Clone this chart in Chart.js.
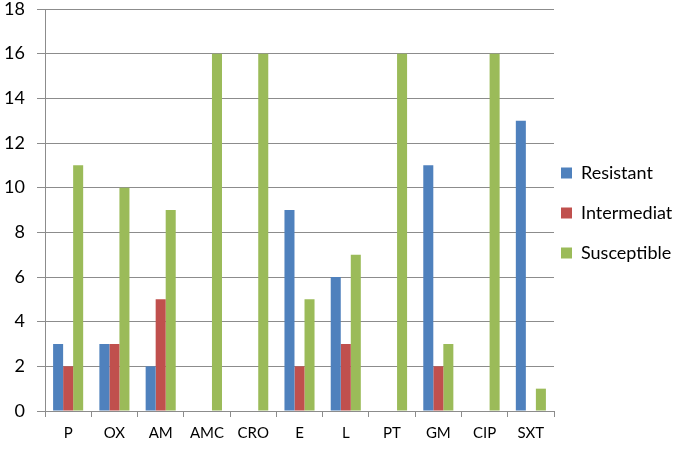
<!DOCTYPE html>
<html>
<head>
<meta charset="utf-8">
<script src="https://cdn.jsdelivr.net/npm/chart.js@4"></script>
<style>
  html, body { margin: 0; padding: 0; background: #fff; }
  #wrap { width: 684px; height: 449px; }
</style>
</head>
<body>
<div id="wrap"><canvas id="bar-chart"></canvas></div>
<script>
var categories = ["P", "OX", "AM", "AMC", "CRO", "E", "L", "PT", "GM", "CIP", "SXT"];
var resistant = [3, 3, 2, 0, 0, 9, 6, 0, 11, 0, 13];
var intermediat = [2, 3, 5, 0, 0, 2, 3, 0, 2, 0, 0];
var susceptible = [11, 10, 9, 16, 16, 5, 7, 16, 3, 16, 1];
var yTicks = [0, 2, 4, 6, 8, 10, 12, 14, 16, 18];

var gridColor = "#8c8c8c";
var fontFamily = "Lato, 'Open Sans', sans-serif";
var legendPad = 22;

// legend sits close to the plot, with wide spacing between rows
var legendTweak = {
  id: 'legendTweak',
  afterInit: function (chart) {
    var lg = chart.legend;
    var fit = lg.fit;
    lg.fit = function () {
      fit.call(this);
      this.width = 130;
    };
  },
  afterLayout: function (chart) {
    var lg = chart.legend;
    lg.left = chart.chartArea.right + 7 - legendPad;
    lg.right = chart.width;
    lg.width = lg.right - lg.left;
    lg.top -= 16;
    lg.bottom -= 16;
  }
};

var barChart = new Chart(document.getElementById("bar-chart"), {
  type: 'bar',
  data: {
    labels: categories,
    datasets: [
      { label: "Resistant", data: resistant, backgroundColor: "#4f81bd" },
      { label: "Intermediat", data: intermediat, backgroundColor: "#c0504d" },
      { label: "Susceptible", data: susceptible, backgroundColor: "#9bbb59" }
    ]
  },
  plugins: [legendTweak],
  options: {
    responsive: true,
    maintainAspectRatio: false,
    animation: false,
    layout: { padding: { left: 4, top: 9, right: 0, bottom: 0 } },
    datasets: { bar: { categoryPercentage: 0.65, barPercentage: 1.0 } },
    scales: {
      x: {
        afterFit: function (scale) {
          scale.height = 38;
          scale.paddingLeft = 0;
          scale.paddingRight = 0;
        },
        grid: { display: true, drawOnChartArea: false, drawTicks: true, tickLength: 6, color: gridColor, offset: true },
        border: { color: gridColor },
        ticks: { color: "#000", font: { family: fontFamily, size: 15 }, padding: 7, maxRotation: 0, minRotation: 0, autoSkip: false }
      },
      y: {
        min: 0,
        max: 18,
        afterBuildTicks: function (axis) {
          axis.ticks = yTicks.map(function (v) { return { value: v }; });
        },
        afterFit: function (scale) {
          scale.width = 41;
          scale.paddingTop = 0;
          scale.paddingBottom = 0;
        },
        grid: { color: gridColor, tickLength: 8 },
        border: { color: gridColor },
        ticks: { color: "#000", font: { family: fontFamily, size: 18 }, padding: 12 }
      }
    },
    plugins: {
      legend: {
        position: 'right',
        labels: { color: "#000", font: { family: fontFamily, size: 18 }, boxWidth: 11, boxHeight: 11, padding: legendPad }
      },
      tooltip: { enabled: false }
    }
  }
});
</script>
</body>
</html>
